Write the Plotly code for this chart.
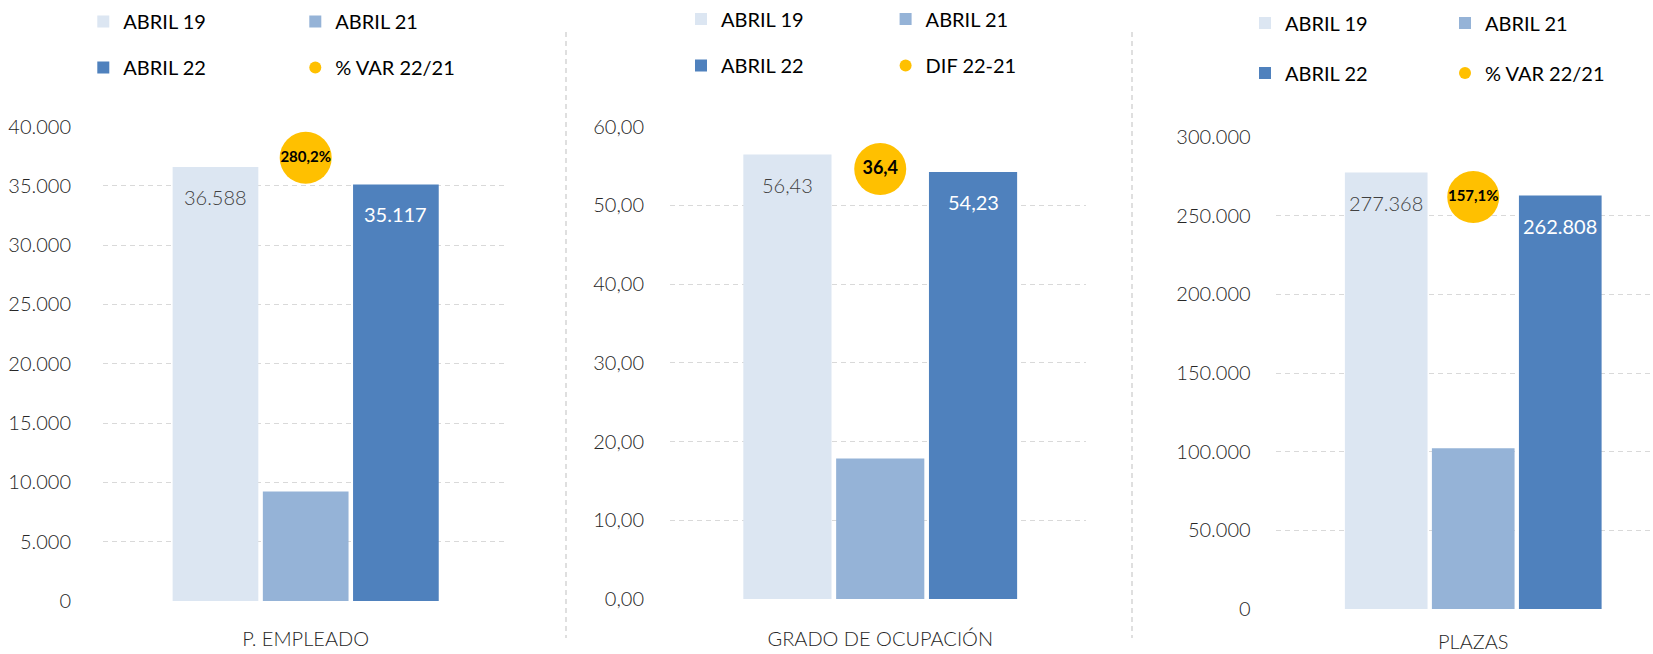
import plotly.graph_objects as go

# ---------------- data ----------------
CATEGORIES = ["P. EMPLEADO", "GRADO DE OCUPACIÓN", "PLAZAS"]
SERIES_NAMES = ["ABRIL 19", "ABRIL 21", "ABRIL 22"]
ABRIL_19 = [36588, 56.43, 277368]
ABRIL_21 = [9236, 17.83, 102220]
ABRIL_22 = [35117, 54.23, 262808]
DOT_NAMES = ["% VAR 22/21", "DIF 22-21", "% VAR 22/21"]
DOT_VALUES = [280.2, 36.4, 157.1]
Y_TICKS = [
    [0, 5000, 10000, 15000, 20000, 25000, 30000, 35000, 40000],
    [0, 10, 20, 30, 40, 50, 60],
    [0, 50000, 100000, 150000, 200000, 250000, 300000],
]

# ---------------- styling / layout ----------------
W, H = 1653, 654
FONT = "Lato"
COLORS = ["#dce6f2", "#95b3d7", "#4f81bd"]
DOT_COLOR = "#ffc000"
LABEL_COLORS = ["#404040", None, "#ffffff"]
LABEL_WEIGHTS = [300, 400, 400]
TICK_COLOR = "#262626"
GRID_COLOR = "#d9d9d9"
BARGAP = 0.0
BARGROUPGAP = 0.05

# pixel geometry per panel
PANELS = [
    dict(x0=103, x1=505, y0=601, y1=126.5, xr=[-0.749, 0.7365], yr=[0, 40000], y2r=[0, 300],
         fmt=",.0f", dec=0, pct=True, dotsize=15, standoff=31, xstandoff=24,
         leg_x=123.3, leg_dx=212, leg_y=[21.5, 67.5]),
    dict(x0=670, x1=1086, y0=599, y1=126.5, xr=[-0.755, 0.739], yr=[0, 60], y2r=[0, 40],
         fmt=".2f", dec=2, pct=False, dotsize=18, standoff=25, xstandoff=26,
         leg_x=721, leg_dx=204.6, leg_y=[19, 65.5]),
    dict(x0=1275.6, x1=1653, y0=609, y1=137, xr=[-0.757, 0.6885], yr=[0, 300000], y2r=[0, 180],
         fmt=",.0f", dec=0, pct=True, dotsize=15, standoff=24, xstandoff=19,
         leg_x=1285, leg_dx=200, leg_y=[23, 73]),
]
SEPARATORS_X = [566, 1132]


def fmt_num(v, dec):
    s = f"{v:,.{dec}f}"
    return s.replace(",", "X").replace(".", ",").replace("X", ".")


series_vals = [ABRIL_19, ABRIL_21, ABRIL_22]
legend_ids = ["legend", "legend2", "legend3", "legend4", "legend5", "legend6"]

fig = go.Figure()
annotations = []
layout_axes = {}
legends = {}

for p, cat in enumerate(CATEGORIES):
    P = PANELS[p]
    xa = "x" if p == 0 else f"x{p + 1}"
    ya = "y" if p == 0 else f"y{p + 1}"
    ya2 = f"y{p + 4}"
    leg_row1 = legend_ids[2 * p]
    leg_row2 = legend_ids[2 * p + 1]
    n = len(SERIES_NAMES)
    slot = (1 - BARGAP) / n
    for i, name in enumerate(SERIES_NAMES):
        v = series_vals[i][p]
        fig.add_trace(go.Bar(
            x=[cat], y=[v], name=name, xaxis=xa, yaxis=ya,
            marker=dict(color=COLORS[i], line=dict(width=0)),
            legend=leg_row1 if i < 2 else leg_row2,
            hoverinfo="skip",
        ))
        if LABEL_COLORS[i] is not None:
            annotations.append(dict(
                x=(i - (n - 1) / 2) * slot, y=v, xref=xa, yref=ya,
                text=fmt_num(v, P["dec"]), showarrow=False, yshift=-30,
                xanchor="center", yanchor="middle",
                font=dict(family=FONT, size=20, color=LABEL_COLORS[i], weight=LABEL_WEIGHTS[i]),
            ))
    dv = DOT_VALUES[p]
    dtxt = (fmt_num(dv, 1) + "%") if P["pct"] else fmt_num(dv, 1)
    fig.add_trace(go.Scatter(
        x=[cat], y=[dv], name=DOT_NAMES[p], xaxis=xa, yaxis=ya2,
        mode="markers+text", text=[dtxt], textposition="middle center",
        textfont=dict(family=FONT, size=P["dotsize"], color="#000000", weight=700),
        marker=dict(color=DOT_COLOR, size=52, line=dict(width=0)),
        legend=leg_row2, cliponaxis=False, hoverinfo="skip",
    ))

    xkey = "xaxis" if p == 0 else f"xaxis{p + 1}"
    ykey = "yaxis" if p == 0 else f"yaxis{p + 1}"
    y2key = f"yaxis{p + 4}"
    layout_axes[xkey] = dict(
        domain=[P["x0"] / W, P["x1"] / W], anchor=ya, type="category",
        range=P["xr"], showgrid=False, zeroline=False, showline=False, ticks="",
        tickfont=dict(family=FONT, size=20, color=TICK_COLOR, weight=300),
        ticklabelstandoff=P["xstandoff"], fixedrange=True,
    )
    layout_axes[ykey] = dict(
        domain=[(H - P["y0"]) / H, (H - P["y1"]) / H], anchor=xa,
        range=P["yr"], tickvals=Y_TICKS[p], tickformat=P["fmt"],
        showgrid=True, gridcolor=GRID_COLOR, griddash="5px,4px", gridwidth=1,
        zeroline=False, showline=False, ticks="",
        tickfont=dict(family=FONT, size=20, color=TICK_COLOR, weight=300),
        ticklabelstandoff=P["standoff"], fixedrange=True,
    )
    layout_axes[y2key] = dict(
        overlaying=ya, anchor=xa, range=P["y2r"], visible=False,
        showgrid=False, zeroline=False, fixedrange=True,
    )
    for r, lid in enumerate([leg_row1, leg_row2]):
        legends[lid] = dict(
            orientation="h", x=(P["leg_x"] - 40) / W, xanchor="left",
            y=1 - P["leg_y"][r] / H, yanchor="middle",
            entrywidth=P["leg_dx"] - 45, entrywidthmode="pixels",
            font=dict(family=FONT, size=20, color="#000000"),
            bgcolor="rgba(0,0,0,0)", borderwidth=0, itemclick=False,
            itemdoubleclick=False, traceorder="normal",
            itemsizing="constant",
        )

shapes = []
for sx in SEPARATORS_X:
    shapes.append(dict(
        type="line", xref="paper", yref="paper", x0=sx / W, x1=sx / W,
        y0=1 - 32 / H, y1=1 - 638 / H,
        line=dict(color="#bfbfbf", width=1, dash="5px,4px"),
    ))

fig.update_layout(
    width=W, height=H, margin=dict(l=0, r=0, t=0, b=0, pad=0, autoexpand=False),
    paper_bgcolor="white", plot_bgcolor="white",
    font=dict(family=FONT, color=TICK_COLOR),
    barmode="group", bargap=BARGAP, bargroupgap=BARGROUPGAP,
    separators=",.", showlegend=True, hovermode=False,
    annotations=annotations, shapes=shapes,
    **layout_axes, **legends,
)

fig.write_html(
    "out.html",
    config={"displayModeBar": False, "staticPlot": False},
    post_script="document.body.style.margin='0px';document.body.style.padding='0px';",
)
